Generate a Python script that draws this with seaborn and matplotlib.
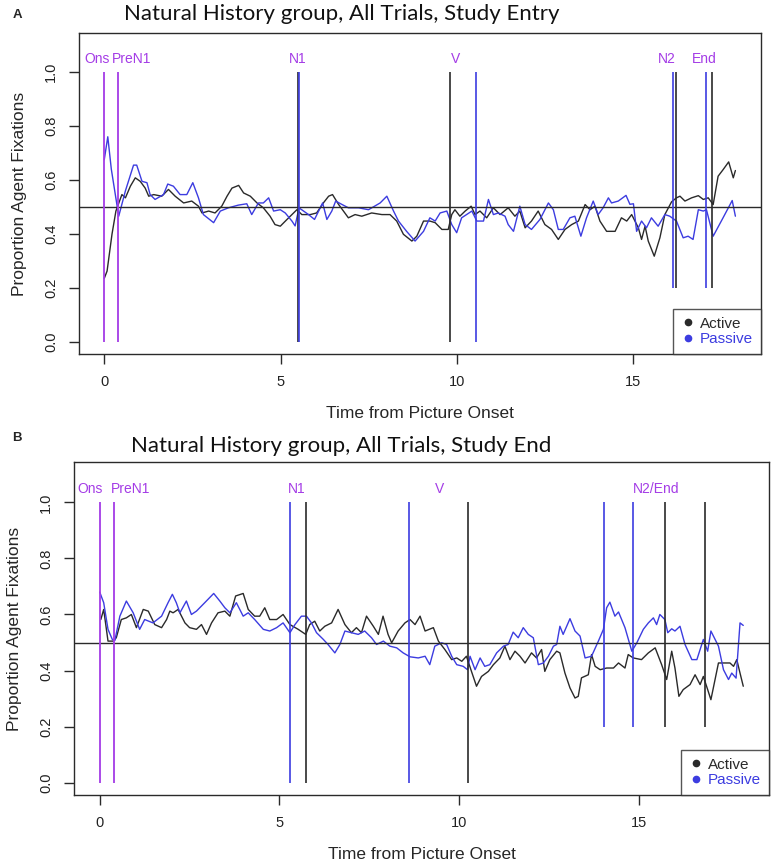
import matplotlib
matplotlib.use("Agg")
import matplotlib.pyplot as plt
from matplotlib.lines import Line2D
import seaborn as sns
import pandas as pd

# ---------------- data ----------------
top_active_t = [0, 0.08, 0.22, 0.33, 0.5, 0.6, 0.74, 0.88, 1.02, 1.16, 1.26, 1.4, 1.63, 1.82, 2.01, 2.25, 2.48, 2.67, 2.77, 2.96, 3.14, 3.33, 3.48, 3.62, 3.81, 3.95, 4.14, 4.33, 4.51, 4.7, 4.84, 4.99, 5.18, 5.32, 5.46, 5.6, 5.84, 6.02, 6.21, 6.36, 6.47, 6.64, 6.78, 6.92, 7.11, 7.3, 7.58, 7.87, 8.1, 8.29, 8.48, 8.72, 8.86, 9.05, 9.23, 9.38, 9.57, 9.75, 9.85, 9.94, 10.08, 10.23, 10.4, 10.51, 10.65, 10.84, 11.03, 11.22, 11.45, 11.64, 11.78, 11.93, 12.11, 12.3, 12.49, 12.68, 12.87, 13.06, 13.25, 13.44, 13.63, 13.77, 13.91, 14.05, 14.24, 14.48, 14.66, 14.81, 14.95, 15.14, 15.23, 15.33, 15.42, 15.59, 15.75, 15.89, 16.08, 16.22, 16.32, 16.46, 16.65, 16.84, 16.98, 17.12, 17.26, 17.4, 17.54, 17.7, 17.83, 17.89]
top_active_v = [0.236, 0.263, 0.40, 0.485, 0.546, 0.534, 0.577, 0.608, 0.595, 0.57, 0.54, 0.546, 0.54, 0.565, 0.54, 0.515, 0.522, 0.503, 0.478, 0.485, 0.478, 0.503, 0.54, 0.57, 0.58, 0.552, 0.54, 0.515, 0.497, 0.466, 0.435, 0.429, 0.454, 0.472, 0.49, 0.472, 0.472, 0.478, 0.515, 0.54, 0.546, 0.51, 0.485, 0.46, 0.472, 0.466, 0.478, 0.472, 0.472, 0.448, 0.399, 0.374, 0.392, 0.448, 0.448, 0.442, 0.417, 0.417, 0.472, 0.49, 0.466, 0.485, 0.503, 0.472, 0.485, 0.46, 0.497, 0.472, 0.497, 0.466, 0.485, 0.423, 0.448, 0.485, 0.435, 0.417, 0.38, 0.417, 0.435, 0.448, 0.509, 0.49, 0.503, 0.448, 0.41, 0.41, 0.46, 0.448, 0.472, 0.423, 0.38, 0.429, 0.374, 0.318, 0.386, 0.472, 0.519, 0.534, 0.54, 0.522, 0.534, 0.542, 0.528, 0.534, 0.509, 0.614, 0.638, 0.667, 0.608, 0.635]

top_passive_t = [0, 0.1, 0.2, 0.41, 0.6, 0.83, 0.92, 1.07, 1.21, 1.3, 1.44, 1.68, 1.8, 1.96, 2.15, 2.34, 2.51, 2.67, 2.81, 3.1, 3.29, 3.52, 3.8, 4.04, 4.18, 4.37, 4.51, 4.66, 4.8, 4.99, 5.13, 5.32, 5.41, 5.52, 5.65, 5.79, 5.96, 6.19, 6.31, 6.45, 6.56, 6.73, 6.92, 7.21, 7.49, 7.82, 8.01, 8.2, 8.34, 8.57, 8.81, 9.05, 9.23, 9.38, 9.52, 9.71, 9.85, 9.99, 10.13, 10.27, 10.42, 10.56, 10.75, 10.89, 11.03, 11.17, 11.36, 11.45, 11.6, 11.78, 11.93, 12.11, 12.35, 12.59, 12.73, 12.87, 13.01, 13.2, 13.34, 13.51, 13.67, 13.86, 14.0, 14.14, 14.29, 14.38, 14.57, 14.79, 14.9, 15.0, 15.09, 15.23, 15.37, 15.51, 15.7, 15.89, 16.03, 16.22, 16.41, 16.55, 16.69, 16.84, 16.98, 17.07, 17.26, 17.54, 17.8, 17.89]
top_passive_v = [0.675, 0.76, 0.64, 0.466, 0.56, 0.655, 0.655, 0.595, 0.59, 0.546, 0.528, 0.546, 0.585, 0.577, 0.546, 0.546, 0.59, 0.534, 0.472, 0.442, 0.485, 0.497, 0.507, 0.512, 0.472, 0.515, 0.515, 0.534, 0.485, 0.49, 0.478, 0.448, 0.43, 0.497, 0.485, 0.472, 0.454, 0.515, 0.454, 0.485, 0.522, 0.51, 0.497, 0.497, 0.49, 0.515, 0.54, 0.485, 0.448, 0.41, 0.374, 0.41, 0.46, 0.448, 0.478, 0.485, 0.435, 0.405, 0.46, 0.472, 0.485, 0.448, 0.448, 0.528, 0.472, 0.478, 0.466, 0.435, 0.41, 0.503, 0.435, 0.417, 0.454, 0.515, 0.49, 0.417, 0.417, 0.46, 0.466, 0.392, 0.46, 0.522, 0.472, 0.497, 0.534, 0.515, 0.522, 0.543, 0.51, 0.512, 0.41, 0.448, 0.423, 0.46, 0.429, 0.472, 0.466, 0.448, 0.386, 0.392, 0.38, 0.49, 0.485, 0.49, 0.392, 0.46, 0.524, 0.466]

bot_active_t = [0.03, 0.11, 0.23, 0.37, 0.46, 0.6, 0.74, 0.88, 1.02, 1.21, 1.35, 1.53, 1.72, 1.86, 1.95, 2.04, 2.18, 2.37, 2.5, 2.69, 2.83, 2.97, 3.11, 3.29, 3.48, 3.62, 3.78, 3.99, 4.13, 4.31, 4.45, 4.59, 4.73, 4.92, 5.1, 5.29, 5.52, 5.73, 5.84, 5.98, 6.12, 6.26, 6.45, 6.63, 6.82, 7.0, 7.14, 7.28, 7.42, 7.61, 7.75, 7.88, 8.02, 8.12, 8.3, 8.49, 8.63, 8.77, 8.91, 9.05, 9.28, 9.42, 9.6, 9.79, 9.93, 10.07, 10.2, 10.34, 10.48, 10.62, 10.81, 10.95, 11.13, 11.27, 11.41, 11.55, 11.69, 11.83, 12.01, 12.15, 12.29, 12.38, 12.52, 12.71, 12.8, 12.94, 13.08, 13.22, 13.31, 13.4, 13.59, 13.68, 13.78, 13.92, 14.1, 14.29, 14.43, 14.61, 14.7, 14.84, 15.07, 15.26, 15.45, 15.63, 15.77, 15.91, 16.0, 16.11, 16.23, 16.42, 16.56, 16.7, 16.79, 16.91, 17.0, 17.21, 17.39, 17.53, 17.63, 17.72, 17.81, 17.9]
bot_active_v = [0.582, 0.618, 0.505, 0.505, 0.517, 0.582, 0.588, 0.6, 0.553, 0.618, 0.612, 0.564, 0.553, 0.582, 0.612, 0.606, 0.618, 0.57, 0.553, 0.547, 0.564, 0.529, 0.57, 0.606, 0.612, 0.594, 0.666, 0.675, 0.618, 0.594, 0.594, 0.624, 0.582, 0.582, 0.6, 0.564, 0.547, 0.529, 0.564, 0.576, 0.541, 0.558, 0.57, 0.618, 0.564, 0.535, 0.553, 0.535, 0.594, 0.558, 0.529, 0.594, 0.529, 0.499, 0.541, 0.57, 0.582, 0.564, 0.594, 0.541, 0.553, 0.505, 0.475, 0.439, 0.445, 0.433, 0.451, 0.397, 0.344, 0.379, 0.397, 0.421, 0.445, 0.487, 0.439, 0.469, 0.451, 0.427, 0.463, 0.445, 0.475, 0.397, 0.439, 0.469, 0.463, 0.391, 0.338, 0.302, 0.308, 0.374, 0.385, 0.457, 0.415, 0.403, 0.409, 0.409, 0.427, 0.409, 0.457, 0.445, 0.439, 0.463, 0.481, 0.421, 0.368, 0.469, 0.409, 0.308, 0.332, 0.35, 0.385, 0.35, 0.379, 0.332, 0.296, 0.427, 0.427, 0.427, 0.415, 0.439, 0.391, 0.344]

bot_passive_t = [0, 0.11, 0.23, 0.35, 0.42, 0.56, 0.74, 0.93, 1.11, 1.25, 1.48, 1.72, 1.9, 2.02, 2.13, 2.23, 2.41, 2.55, 2.69, 2.92, 3.17, 3.34, 3.48, 3.62, 3.8, 3.99, 4.13, 4.31, 4.55, 4.73, 4.92, 5.1, 5.29, 5.43, 5.61, 5.75, 5.89, 6.03, 6.22, 6.35, 6.54, 6.68, 6.82, 7.0, 7.19, 7.37, 7.56, 7.7, 7.89, 8.07, 8.26, 8.44, 8.63, 8.86, 9.05, 9.18, 9.32, 9.51, 9.65, 9.79, 9.93, 10.11, 10.23, 10.3, 10.44, 10.58, 10.71, 10.85, 11.04, 11.23, 11.36, 11.5, 11.64, 11.78, 11.92, 12.06, 12.2, 12.34, 12.48, 12.62, 12.71, 12.8, 12.89, 13.08, 13.22, 13.36, 13.5, 13.68, 13.87, 14.01, 14.1, 14.19, 14.33, 14.43, 14.61, 14.8, 14.94, 15.12, 15.26, 15.4, 15.49, 15.58, 15.72, 15.8, 15.91, 16.0, 16.14, 16.28, 16.47, 16.61, 16.79, 16.91, 17.0, 17.21, 17.35, 17.49, 17.58, 17.7, 17.81, 17.9]
bot_passive_v = [0.68, 0.642, 0.547, 0.511, 0.507, 0.594, 0.648, 0.606, 0.547, 0.582, 0.57, 0.594, 0.642, 0.672, 0.642, 0.606, 0.648, 0.6, 0.612, 0.642, 0.675, 0.648, 0.624, 0.606, 0.642, 0.594, 0.606, 0.582, 0.547, 0.541, 0.553, 0.57, 0.535, 0.564, 0.594, 0.594, 0.57, 0.535, 0.511, 0.493, 0.463, 0.493, 0.541, 0.535, 0.529, 0.541, 0.517, 0.493, 0.505, 0.487, 0.481, 0.463, 0.449, 0.445, 0.451, 0.421, 0.487, 0.499, 0.493, 0.451, 0.421, 0.415, 0.403, 0.451, 0.403, 0.445, 0.415, 0.421, 0.463, 0.487, 0.493, 0.537, 0.517, 0.553, 0.529, 0.517, 0.421, 0.427, 0.451, 0.487, 0.493, 0.558, 0.529, 0.585, 0.541, 0.523, 0.445, 0.451, 0.505, 0.547, 0.624, 0.644, 0.594, 0.609, 0.553, 0.469, 0.499, 0.547, 0.57, 0.588, 0.564, 0.6, 0.582, 0.535, 0.549, 0.541, 0.558, 0.493, 0.439, 0.439, 0.511, 0.469, 0.541, 0.487, 0.403, 0.368, 0.391, 0.373, 0.57, 0.561]

# event markers (x positions, seconds)
top_purple = [0.0, 0.4]
top_black_full = [5.48, 9.80]
top_blue_full = [5.52, 10.54]
top_blue_short = [16.11, 17.07]
top_black_short = [16.20, 17.24]
top_labels = ["Ons", "PreN1", "N1", "V", "N2", "End"]
top_label_x = [-0.2, 0.77, 5.47, 9.97, 15.95, 17.0]

bot_purple = [0.0, 0.39]
bot_black_full = [5.73, 10.25]
bot_blue_full = [5.30, 8.60]
bot_blue_short = [14.02, 14.84]
bot_black_short = [15.72, 16.84]
bot_labels = ["Ons", "PreN1", "N1", "V", "N2/End"]
bot_label_x = [-0.28, 0.85, 5.49, 9.46, 15.48]

titles = ["Natural History group, All Trials, Study Entry",
          "Natural History group, All Trials, Study End"]
panel_letters = ["A", "B"]
x_ticks = [0, 5, 10, 15]
y_ticks = [0.0, 0.2, 0.4, 0.6, 0.8, 1.0]
conds = ["Active", "Passive"]

# ---------------- style ----------------
sns.set_style("white")
plt.rcParams["font.family"] = ["Liberation Sans", "DejaVu Sans"]

BLACK = "#2a2a2a"
BLUE = "#3c3ce0"
PURPLE = "#a43ce6"
palette = {"Active": BLACK, "Passive": BLUE}

fig = plt.figure(figsize=(7.73, 8.64), dpi=100)

axes_rects = [
    [79 / 773, 1 - 354 / 864, (761 - 79) / 773, (354 - 33) / 864],
    [74 / 773, 1 - 795 / 864, (769 - 74) / 773, (795 - 462) / 864],
]
title_y = [1 - 14 / 864, 1 - 446 / 864]
letter_y = [1 - 15 / 864, 1 - 438 / 864]

panels = [
    dict(at=top_active_t, av=top_active_v, pt=top_passive_t, pv=top_passive_v,
         purple=top_purple, bfull=top_black_full, blfull=top_blue_full,
         blshort=top_blue_short, bshort=top_black_short,
         labels=top_labels, lx=top_label_x),
    dict(at=bot_active_t, av=bot_active_v, pt=bot_passive_t, pv=bot_passive_v,
         purple=bot_purple, bfull=bot_black_full, blfull=bot_blue_full,
         blshort=bot_blue_short, bshort=bot_black_short,
         labels=bot_labels, lx=bot_label_x),
]

for i, p in enumerate(panels):
    ax = fig.add_axes(axes_rects[i])
    df = pd.concat([
        pd.DataFrame({"t": p["at"], "v": p["av"], "cond": "Active"}),
        pd.DataFrame({"t": p["pt"], "v": p["pv"], "cond": "Passive"}),
    ], ignore_index=True)
    sns.lineplot(data=df, x="t", y="v", hue="cond", palette=palette,
                 estimator=None, sort=False, legend=False, lw=1.0, ax=ax,
                 zorder=3)

    ax.axhline(0.5, color=BLACK, lw=1.0, zorder=4)
    ax.vlines(p["purple"], 0, 1, color=PURPLE, lw=1.3, zorder=5)
    ax.vlines(p["bfull"], 0, 1, color=BLACK, lw=1.2, zorder=5)
    ax.vlines(p["blfull"], 0, 1, color=BLUE, lw=1.2, zorder=5)
    ax.vlines(p["blshort"], 0.2, 1, color=BLUE, lw=1.2, zorder=5)
    ax.vlines(p["bshort"], 0.2, 1, color=BLACK, lw=1.2, zorder=5)
    for lab, lx in zip(p["labels"], p["lx"]):
        ax.text(lx, 1.048, lab, color=PURPLE, fontsize=10, ha="center",
                va="center")

    ax.set_xlim(-0.716, 18.616)
    ax.set_ylim(-0.044, 1.144)
    ax.set_xticks(x_ticks)
    ax.set_xticklabels([str(x) for x in x_ticks])
    ax.set_yticks(y_ticks)
    ax.set_yticklabels([f"{y:.1f}" for y in y_ticks], rotation=90, va="center")
    ax.tick_params(axis="both", direction="out", length=7, width=1,
                   color=BLACK, labelcolor="#222222", labelsize=10.5,
                   pad=8, bottom=True, left=True)
    for s in ax.spines.values():
        s.set_visible(True)
        s.set_color(BLACK)
        s.set_linewidth(1.0)
    ax.set_xlabel("Time from Picture Onset", fontsize=12.5, labelpad=12.5)
    ax.set_ylabel("Proportion Agent Fixations", fontsize=12.5, labelpad=12)

    handles = [Line2D([], [], marker="o", ls="", color=palette[c],
                      markersize=4.5) for c in conds]
    leg = ax.legend(handles, conds, loc="lower right", borderaxespad=0,
                    frameon=True, fancybox=False, fontsize=11,
                    labelcolor=[palette[c] for c in conds],
                    handletextpad=0.3, handlelength=1.0, borderpad=0.5,
                    labelspacing=0.1)
    leg.get_frame().set_edgecolor(BLACK)
    leg.get_frame().set_linewidth(1.0)
    leg.set_zorder(10)

    fig.text(0.442, title_y[i], titles[i], fontsize=16, ha="center",
             va="center", family=["Lato", "DejaVu Sans"], color="#111111")
    fig.text(0.016, letter_y[i], panel_letters[i], fontsize=9.5,
             fontweight="bold", ha="left", va="center")

fig.savefig("out.png", dpi=100, facecolor="white")
